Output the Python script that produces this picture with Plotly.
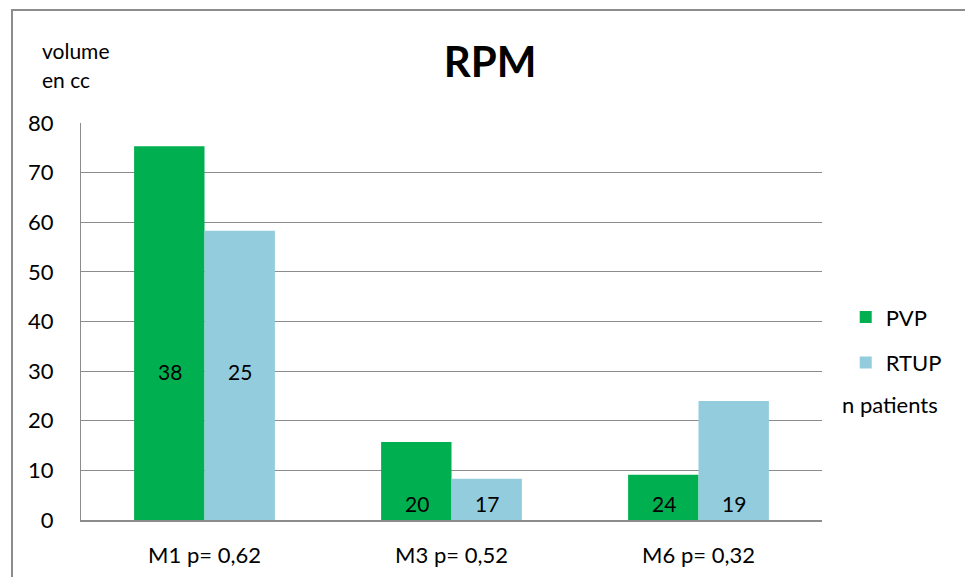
import plotly.graph_objects as go

categories = ["M1 p= 0,62", "M3 p= 0,52", "M6 p= 0,32"]
pvp_values = [75.3, 15.7, 9.1]
rtup_values = [58.3, 8.3, 24.0]
pvp_n = ["38", "20", "24"]
rtup_n = ["25", "17", "19"]
label_y = [30, 3.4, 3.4]
y_ticks = [0, 10, 20, 30, 40, 50, 60, 70, 80]

FONT = "Lato"
GREEN = "#00B050"
BLUE = "#93CDDD"
GRID = "#8C8C8C"
FS = 22

fig = go.Figure()
fig.add_trace(go.Bar(x=categories, y=pvp_values, name="PVP", marker_color=GREEN,
                     marker_line_width=0, legendgroup="a"))
fig.add_trace(go.Bar(x=categories, y=rtup_values, name="RTUP", marker_color=BLUE,
                     marker_line_width=0, legendgroup="b"))

annotations = []
for c, n1, n2, ly in zip(categories, pvp_n, rtup_n, label_y):
    annotations.append(dict(x=c, y=ly, xref="x", yref="y", text=n1, showarrow=False,
                            xshift=-35, font=dict(size=21, color="black", family=FONT)))
    annotations.append(dict(x=c, y=ly, xref="x", yref="y", text=n2, showarrow=False,
                            xshift=35, font=dict(size=21, color="black", family=FONT)))

annotations.append(dict(x=-0.0553, y=1.183, xref="paper", yref="paper", text="volume",
                        showarrow=False, xanchor="left", yanchor="middle", align="left",
                        font=dict(size=21, color="black", family=FONT)))
annotations.append(dict(x=-0.0553, y=1.110, xref="paper", yref="paper", text="en cc",
                        showarrow=False, xanchor="left", yanchor="middle", align="left",
                        font=dict(size=21, color="black", family=FONT)))
annotations.append(dict(x=1.0918, y=0.292, xref="paper", yref="paper", text="n patients",
                        showarrow=False, xanchor="center", yanchor="middle",
                        font=dict(size=FS, color="black", family=FONT)))

fig.update_layout(
    width=965, height=577,
    margin=dict(l=81, r=143, t=123, b=57, autoexpand=False),
    paper_bgcolor="white", plot_bgcolor="white",
    barmode="group", bargap=0.43, bargroupgap=0,
    title=dict(text="<b>RPM</b>", x=0.508, xanchor="center", y=0.8925, yanchor="middle",
               font=dict(size=42, color="black", family=FONT)),
    font=dict(family=FONT, size=FS, color="black"),
    legend=dict(x=1.032, y=0.453, xanchor="left", yanchor="middle",
                font=dict(size=FS, color="black", family=FONT),
                tracegroupgap=14, bgcolor="rgba(0,0,0,0)"),
    annotations=annotations,
    shapes=[dict(type="rect", xref="paper", yref="paper", x0=-0.0931, y0=-1, x1=3, y1=1.2846,
                 line=dict(color="#8C8C8C", width=2), fillcolor="rgba(0,0,0,0)", layer="below")],
)
fig.update_yaxes(range=[0, 80], tickvals=y_ticks, showgrid=True, gridcolor=GRID, gridwidth=1,
                 showline=True, linecolor=GRID, linewidth=1, zeroline=False, automargin=False,
                 ticks="", ticklabelstandoff=22, tickfont=dict(size=FS, color="black", family=FONT))
fig.update_xaxes(showline=True, linecolor=GRID, linewidth=2, showgrid=False, automargin=False,
                 ticks="", ticklabelstandoff=15, tickfont=dict(size=FS, color="black", family=FONT))

fig.write_html("out.html", config={"displayModeBar": False},
               post_script="document.body.style.margin='0';")
